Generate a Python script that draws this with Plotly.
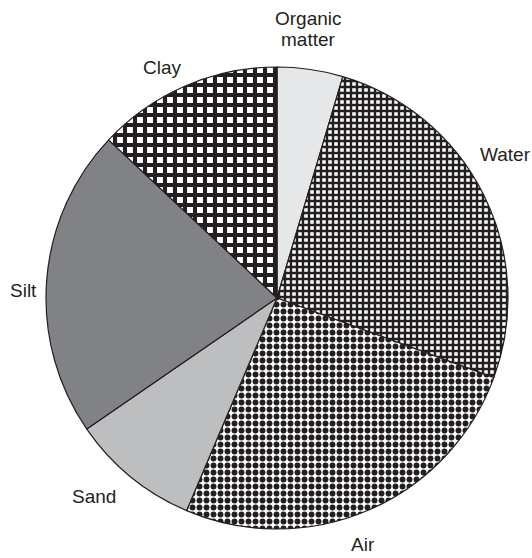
import math
import plotly.graph_objects as go

# ---- data ----
categories = ["Organic matter", "Water", "Air", "Sand", "Silt", "Clay"]
label_lines = [["Organic", "matter"], ["Water"], ["Air"], ["Sand"], ["Silt"], ["Clay"]]
values = [4.6, 26.0, 25.8, 9.0, 21.6, 13.0]

# ---- styles ----
fills = ["#e6e7e8", "#ffffff", "#ffffff", "#bcbec0", "#808285", "#ffffff"]
shapes = ["", "+", ".", "", "", "+"]
sizes = [8, 6, 7, 8, 8, 10]
solidities = [0.3, 0.65, 0.55, 0.3, 0.3, 0.65]
INK = "#231f20"
FONT = dict(family="Liberation Sans, Arial, sans-serif", size=19, color=INK)
LINE_GAP = 21

W, H = 532, 558
CX, CY, R = 277, 298, 231            # pie centre / radius in pixels
# label placement: radial distance from centre and angle shift from slice mid-angle
label_dist = [271, 270, 261, 270, 254, 257]
label_dtheta = [-1.5, -5.4, 4.1, 3.4, -2.7, -3.0]

fig = go.Figure(go.Pie(
    labels=categories,
    values=values,
    sort=False,
    direction="clockwise",
    rotation=0,
    textinfo="none",
    marker=dict(
        colors=fills,
        line=dict(color=INK, width=1.2),
        pattern=dict(shape=shapes, size=sizes, solidity=solidities,
                     fgcolor=INK, fgopacity=1, fillmode="overlay"),
    ),
    domain=dict(x=[(CX - R) / W, (CX + R) / W],
                y=[(H - CY - R) / H, (H - CY + R) / H]),
    showlegend=False,
    hoverinfo="label+percent",
))

total = sum(values)
cum = 0.0
annotations = []
for i, v in enumerate(values):
    mid = (cum + v / 2) / total * 360.0 + label_dtheta[i]
    cum += v
    t = math.radians(mid)
    px = CX + label_dist[i] * math.sin(t)
    py = CY - label_dist[i] * math.cos(t)
    n = len(label_lines[i])
    for k, line in enumerate(label_lines[i]):
        ly = py + (k - (n - 1) / 2) * LINE_GAP
        annotations.append(dict(
            x=px / W, y=1 - ly / H, xref="paper", yref="paper",
            text=line, showarrow=False,
            xanchor="center", yanchor="middle", align="center",
            font=FONT,
        ))

fig.update_layout(
    width=W, height=H,
    margin=dict(l=0, r=0, t=0, b=0),
    paper_bgcolor="white",
    plot_bgcolor="white",
    annotations=annotations,
)

fig.write_html(
    "out.html",
    config={"displayModeBar": False},
    post_script="document.body.style.margin='0px';document.body.style.overflow='hidden';",
)
